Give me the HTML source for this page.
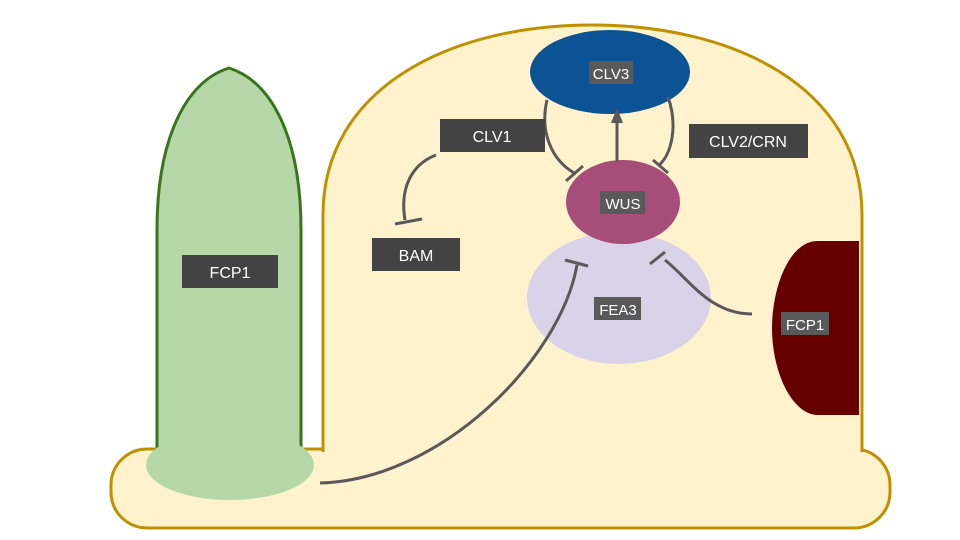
<!DOCTYPE html>
<html><head><meta charset="utf-8"><style>
html,body{margin:0;padding:0;background:#fff}
svg{display:block}
text{font-family:"Liberation Sans",sans-serif;fill:#fff}
</style></head><body>
<svg width="960" height="540" viewBox="0 0 960 540">
<rect x="111" y="449" width="779" height="79" rx="36" fill="#fff2cc" stroke="#bf9000" stroke-width="3"/>
<path d="M323,452 L323,215 C323,88 450,25 592,25 C735,25 862,88 862,215 L862,452 Z" fill="#fff2cc"/>
<path d="M323,452 L323,215 C323,88 450,25 592,25 C735,25 862,88 862,215 L862,452" fill="none" stroke="#bf9000" stroke-width="3"/>
<path d="M157,452 L157,230 C157,140 185,82 229,68 C273,82 301,140 301,230 L301,452" fill="#b6d7a8" stroke="#38761d" stroke-width="3"/>
<ellipse cx="230" cy="465" rx="84" ry="35" fill="#b6d7a8"/>
<ellipse cx="619" cy="298" rx="92" ry="66" fill="#d9d2e9"/>
<ellipse cx="610" cy="72" rx="80" ry="42" fill="#0b5394"/>
<ellipse cx="623" cy="202" rx="57" ry="42" fill="#a64d79"/>
<path d="M859,241 L818,241 C788,241 772,290 772,328 C772,372 792,415 818,415 L859,415 Z" fill="#660000"/>
<g stroke="#595959" stroke-width="3" fill="none">
<line x1="617" y1="162" x2="617" y2="118"/>
<path d="M547,100 C540,130 550,160 576,174"/>
<line x1="566" y1="181" x2="583" y2="166"/>
<path d="M668,97 C678,125 672,155 658,166"/>
<line x1="653" y1="160" x2="668" y2="173"/>
<path d="M436,155 C410,165 400,190 405,220"/>
<line x1="395" y1="224" x2="422" y2="219"/>
<path d="M320,483 C440,480 560,360 577,265"/>
<line x1="565" y1="260" x2="588" y2="266"/>
<path d="M752,314 C710,314 690,280 665,260"/>
<line x1="650" y1="264" x2="665" y2="252"/>
</g>
<polygon points="617,108 611,123 623,123" fill="#595959"/>
<g>
<rect x="440" y="119" width="105" height="33" fill="#434343"/><text x="492" y="142" font-size="16" text-anchor="middle">CLV1</text>
<rect x="689" y="124" width="119" height="34" fill="#434343"/><text x="748" y="147" font-size="16" text-anchor="middle">CLV2/CRN</text>
<rect x="372" y="238" width="88" height="33" fill="#434343"/><text x="416" y="261" font-size="16" text-anchor="middle">BAM</text>
<rect x="182" y="255" width="96" height="33" fill="#434343"/><text x="230" y="278" font-size="16" text-anchor="middle">FCP1</text>
<rect x="589" y="61" width="44" height="23" fill="#595959"/><text x="611" y="79" font-size="15" text-anchor="middle">CLV3</text>
<rect x="600" y="191" width="45" height="23" fill="#595959"/><text x="623" y="209" font-size="15" text-anchor="middle">WUS</text>
<rect x="594" y="297" width="47" height="23" fill="#595959"/><text x="618" y="315" font-size="15" text-anchor="middle">FEA3</text>
<rect x="781" y="312" width="48" height="23" fill="#595959"/><text x="805" y="330" font-size="15" text-anchor="middle">FCP1</text>
</g>
</svg>
</body></html>
